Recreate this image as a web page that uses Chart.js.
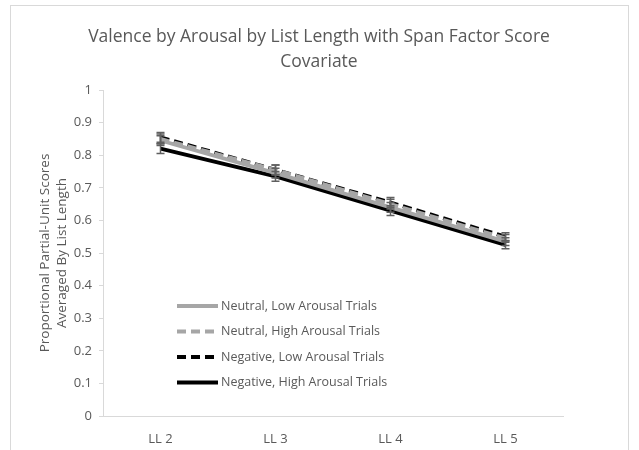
<!DOCTYPE html>
<html><head><meta charset="utf-8">
<script src="https://cdn.jsdelivr.net/npm/chart.js@4"></script>
<style>html,body{margin:0;padding:0;background:#fff;}#wrap{width:639px;height:450px;position:relative;}</style>
</head><body><div id="wrap"><canvas id="c" width="639" height="450"></canvas></div>
<script>
const categories = ["LL 2", "LL 3", "LL 4", "LL 5"];
const seriesNames = ["Neutral, Low Arousal Trials", "Neutral, High Arousal Trials", "Negative, Low Arousal Trials", "Negative, High Arousal Trials"];
const neutralLow = [0.845, 0.745, 0.64, 0.535];
const neutralHigh = [0.85, 0.755, 0.65, 0.545];
const negativeLow = [0.855, 0.755, 0.655, 0.55];
const negativeHigh = [0.82, 0.735, 0.63, 0.525];
const errNeutralLow = [0.015, 0.015, 0.015, 0.012];
const errNeutralHigh = [0.015, 0.015, 0.015, 0.012];
const errNegativeLow = [0.015, 0.015, 0.015, 0.012];
const errNegativeHigh = [0.015, 0.015, 0.015, 0.012];
const yTicks = [0, 0.1, 0.2, 0.3, 0.4, 0.5, 0.6, 0.7, 0.8, 0.9, 1];
const titleLines = ["Valence by Arousal by List Length with Span Factor Score", "Covariate"];
const yTitleLines = ["Proportional Partial-Unit Scores", "Averaged By List Length"];

const FONT = "'Open Sans', 'Liberation Sans', sans-serif";
const TXT = '#595959';

const errorBars = {
  id: 'errorBars',
  afterDatasetsDraw(chart) {
    const ctx = chart.ctx, y = chart.scales.y, x = chart.scales.x;
    ctx.save();
    ctx.strokeStyle = '#5f5f5f'; ctx.lineWidth = 1.5;
    chart.data.datasets.forEach(ds => {
      ds.data.forEach((v, i) => {
        const px = x.getPixelForValue(i);
        const top = y.getPixelForValue(v + ds.err[i]);
        const bot = y.getPixelForValue(v - ds.err[i]);
        ctx.beginPath();
        ctx.moveTo(px, top); ctx.lineTo(px, bot);
        ctx.moveTo(px - 4, top); ctx.lineTo(px + 4, top);
        ctx.moveTo(px - 4, bot); ctx.lineTo(px + 4, bot);
        ctx.stroke();
      });
    });
    ctx.restore();
  }
};

const texts = {
  id: 'texts',
  afterDraw(chart) {
    const ctx = chart.ctx, y = chart.scales.y, x = chart.scales.x;
    ctx.save();
    ctx.fillStyle = TXT;
    ctx.textAlign = 'center'; ctx.textBaseline = 'middle';
    ctx.font = "17.5px " + FONT;
    titleLines.forEach((t, i) => ctx.fillText(t, 319, 37 + i * 25));
    ctx.save();
    ctx.translate(0, (y.top + y.bottom) / 2);
    ctx.rotate(-Math.PI / 2);
    ctx.font = "13.5px " + FONT;
    yTitleLines.forEach((t, i) => ctx.fillText(t, 0, 45 + i * 17));
    ctx.restore();
    ctx.font = "12.5px " + FONT;
    ctx.textAlign = 'left';
    const x0 = x.left + 74, x1 = x0 + 41;
    chart.data.datasets.forEach((ds, k) => {
      const yy = y.top + 216 + k * 25.5;
      ctx.strokeStyle = ds.borderColor; ctx.lineWidth = ds.borderWidth;
      ctx.setLineDash(ds.borderDash || []);
      ctx.beginPath(); ctx.moveTo(x0, yy); ctx.lineTo(x1, yy); ctx.stroke();
      ctx.setLineDash([]);
      ctx.fillStyle = TXT;
      ctx.fillText(ds.label, x1 + 3, yy);
    });
    ctx.restore();
  }
};

const frame = {
  id: 'frame',
  beforeDraw(chart) {
    const ctx = chart.ctx;
    ctx.save();
    ctx.fillStyle = '#fff'; ctx.fillRect(0, 0, chart.width, chart.height);
    ctx.strokeStyle = '#d9d9d9'; ctx.lineWidth = 1;
    ctx.strokeRect(10.5, 5.5, 618, 450);
    ctx.restore();
  }
};

function ds(label, data, err, color, dash) {
  return { label, data, err, borderColor: color, backgroundColor: color, borderWidth: 3.8,
    borderDash: dash, pointRadius: 0, fill: false, tension: 0 };
}

new Chart(document.getElementById('c'), {
  type: 'line',
  data: {
    labels: categories,
    datasets: [
      ds(seriesNames[0], neutralLow, errNeutralLow, '#a6a6a6', []),
      ds(seriesNames[1], neutralHigh, errNeutralHigh, '#a6a6a6', [9, 5]),
      ds(seriesNames[2], negativeLow, errNegativeLow, '#000000', [9, 5]),
      ds(seriesNames[3], negativeHigh, errNegativeHigh, '#000000', [])
    ]
  },
  options: {
    responsive: false,
    animation: false,
    layout: { padding: { left: 0, right: 76, top: 90, bottom: 0 } },
    plugins: {
      legend: { display: false },
      tooltip: { enabled: false },
      title: { display: false }
    },
    scales: {
      x: {
        offset: true,
        grid: { display: false, drawTicks: false },
        border: { color: '#d9d9d9', width: 1 },
        ticks: { color: TXT, font: { family: FONT, size: 13 }, padding: 15 },
        afterFit(axis) { axis.height = 34; }
      },
      y: {
        min: 0, max: 1,
        afterBuildTicks(axis) { axis.ticks = yTicks.map(v => ({ value: v })); },
        afterFit(axis) { axis.width = 103; },
        grid: { display: true, drawOnChartArea: false, drawTicks: true, tickLength: 4, color: '#d9d9d9' },
        border: { color: '#d9d9d9', width: 1 },
        ticks: { color: TXT, font: { family: FONT, size: 13 }, padding: 7,
          callback: v => String(Math.round(v * 10) / 10) }
      }
    }
  },
  plugins: [frame, errorBars, texts]
});
</script></body></html>
